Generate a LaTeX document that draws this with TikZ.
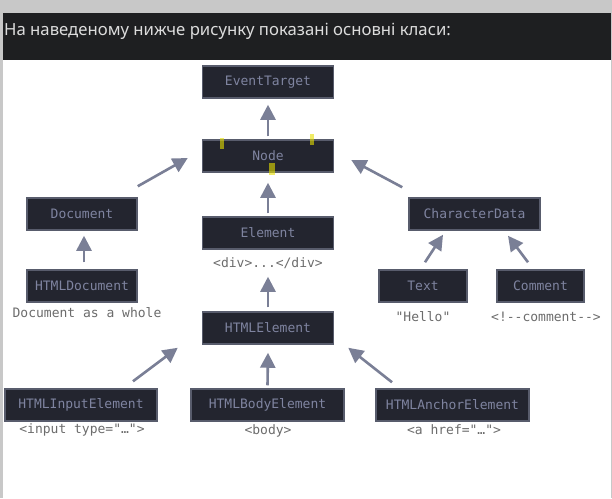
\documentclass[tikz,border=0pt]{standalone}
\usepackage{fontspec}
\setmainfont{Noto Sans}
\newfontfamily\codefont{DejaVu Sans Mono}
\usepackage{tikz}
\usetikzlibrary{arrows.meta,calc}
\definecolor{pagegray}{HTML}{C8C8C8}
\definecolor{bandblack}{HTML}{1E1F21}
\definecolor{bandtext}{HTML}{DCDCDC}
\definecolor{boxfill}{HTML}{23252F}
\definecolor{boxline}{HTML}{585C6C}
\definecolor{boxtext}{HTML}{7F84A0}
\definecolor{arrowgray}{HTML}{7A7F96}
\definecolor{tagtext}{HTML}{6C6C6C}
\definecolor{marker}{HTML}{E6E000}
\tikzset{
	classbox/.style={draw=boxline, line width=1.5pt, fill=boxfill, text=boxtext, inner sep=0pt,
		minimum width=#1, minimum height=32pt, font=\codefont\fontsize{13}{15}\selectfont},
	taglabel/.style={text=tagtext, inner sep=0pt, font=\codefont\fontsize{13}{15}\selectfont},
	inherit/.style={draw=arrowgray, line width=2.6pt, -{Triangle[width=15pt,length=15pt]}}
}

\begin{document}
\begin{tikzpicture}[x=1pt,y=-1pt]
	\useasboundingbox (0,0) rectangle (612,498);
	
	% page, title band and white sheet
	\fill[pagegray] (0,0) rectangle (612,498);
	\fill[bandblack] (3,13) rectangle (611,60);
	\fill[white] (3,60) rectangle (611,498);
	\node[anchor=base west, text=bandtext, inner sep=0pt, font=\fontsize{16.7}{20}\selectfont] (heading) at (4,35) {На наведеному нижче рисунку показані основні класи:};
	
	% class boxes
	\node[classbox=131pt] (evtarget) at (268,82) {EventTarget};
	\node[classbox=131pt] (domnode) at (268,156) {Node};
	\node[classbox=131pt] (element) at (268,233) {Element};
	\node[classbox=131pt] (htmlelem) at (268,328) {HTMLElement};
	\node[classbox=110pt] (document) at (82,214) {Document};
	\node[classbox=110pt] (htmldoc) at (82,286) {HTMLDocument};
	\node[classbox=131pt] (chardata) at (474.5,214) {CharacterData};
	\node[classbox=88pt] (textnode) at (423,286) {Text};
	\node[classbox=87pt] (comment) at (540.5,286) {Comment};
	\node[classbox=152pt] (htmlinput) at (81,405) {HTMLInputElement};
	\node[classbox=153pt] (htmlbody) at (267.5,405) {HTMLBodyElement};
	\node[classbox=153pt] (htmlanchor) at (452.5,405) {HTMLAnchorElement};
	
	% tags under the boxes
	\node[taglabel] (divtag) at (268,263) {<div>...</div>};
	\node[taglabel] (doctag) at (87,313) {Document as a whole};
	\node[taglabel] (hellotag) at (423,317) {"Hello"};
	\node[taglabel] (commenttag) at (546,317) {<!--comment-->};
	\node[taglabel] (inputtag) at (82,430) {<input type="…">};
	\node[taglabel] (bodytag) at (268,431) {<body>};
	\node[taglabel] (anchortag) at (454,430) {<a href="…">};
	
	% inheritance arrows
	\draw[inherit] ($(domnode.north)+(0,-3)$) -- ($(evtarget.south)+(0,6)$);
	\draw[inherit] ($(element.north)+(0,-3)$) -- ($(domnode.south)+(0,10)$);
	\draw[inherit] ($(htmlelem.north)+(0,-4)$) -- ($(element.south)+(0,27)$);
	\draw[inherit] ($(htmlbody.north)+(0,-3)$) -- ($(htmlelem.south)+(0,8)$);
	\draw[inherit] ($(htmldoc.north)+(2,-7)$) -- ($(document.south)+(2,5)$);
	\draw[inherit] ($(document.north east)+(0,-11)$) -- ($(domnode.west)+(-14,2)$);
	\draw[inherit] ($(chardata.north west)+(-6,-10)$) -- ($(domnode.east)+(17,4)$);
	\draw[inherit] ($(textnode.north)+(2,-7)$) -- ($(chardata.south)+(-31.5,4)$);
	\draw[inherit] ($(comment.north)+(-12.5,-7)$) -- ($(chardata.south)+(33.5,5)$);
	\draw[inherit] ($(htmlinput.north)+(52,-7)$) -- ($(htmlelem.south west)+(-24,3)$);
	\draw[inherit] ($(htmlanchor.north)+(-60.5,-6)$) -- ($(htmlelem.south east)+(14,3)$);
	
	% yellow marks
	\fill[marker, fill opacity=0.6] (220,138) rectangle (224,149);
	\fill[marker, fill opacity=0.6] (310,134) rectangle (314,145);
	\fill[marker, fill opacity=0.6] (269,163) rectangle (275,175);
\end{tikzpicture}
\end{document}
